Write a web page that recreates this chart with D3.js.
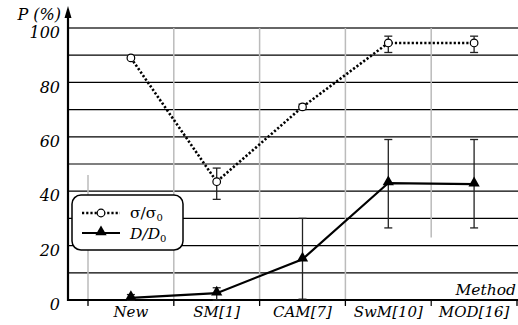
<!DOCTYPE html>
<html>
<head>
<meta charset="utf-8">
<script src="https://cdn.jsdelivr.net/npm/d3@7"></script>
<style>
  body { margin: 0; background: #fff; }
</style>
</head>
<body>
<script>
// chart values
var methods = ["New", "SM[1]", "CAM[7]", "SwM[10]", "MOD[16]"];
var sigma = [89, 43.5, 71, 94.5, 94.5];
var sigmaLo = [89, 37, 70, 91, 91];
var sigmaHi = [89, 48.5, 72, 97, 97];
var dd = [0.8, 2.5, 15, 43, 42.6];
var ddLo = [0, 0, 0.3, 26.5, 26.5];
var ddHi = [2, 4.5, 30, 59, 59];
var yLabels = [0, 20, 40, 60, 80, 100];
var gridVals = d3.range(0, 101, 10);
// separator lines between method columns: [top, bottom] in %
var sepTop = [46, 100, 100, 100, 100, 0];
var sepBottom = [-2, -2, -2, -2, 23, -2];

var W = 518, H = 325;
var x0 = 68;
var serif = "'DejaVu Serif', serif";

var svg = d3.select("body").append("svg")
    .attr("width", W)
    .attr("height", H)
    .attr("font-family", serif);

var x = d3.scaleBand()
    .domain(methods)
    .range([88, 517]);

var y = d3.scaleLinear()
    .domain([0, 100])
    .range([300, 28]);

var cx = function(i) { return x(methods[i]) + x.bandwidth() / 2; };

// horizontal grid
svg.append("g").selectAll("line")
  .data(gridVals)
  .enter().append("line")
    .attr("x1", x0).attr("x2", W)
    .attr("y1", function(d) { return y(d); })
    .attr("y2", function(d) { return y(d); })
    .attr("stroke", function(d) { return d == 100 ? "#666" : "#000"; })
    .attr("stroke-width", function(d) { return d == 100 ? 2 : 1.2; });

// column separators
var bounds = methods.map(function(m) { return x(m); }).concat([x.range()[1]]);
svg.append("g").selectAll("line")
  .data(bounds)
  .enter().append("line")
    .attr("x1", function(d) { return d; })
    .attr("x2", function(d) { return d; })
    .attr("y1", function(d, i) { return y(sepTop[i]); })
    .attr("y2", function(d, i) { return y(sepBottom[i]); })
    .attr("stroke", "#bbb")
    .attr("stroke-width", 1.5);

// bottom ticks
svg.append("g").selectAll("line")
  .data(bounds)
  .enter().append("line")
    .attr("x1", function(d) { return d; })
    .attr("x2", function(d) { return d; })
    .attr("y1", y(0))
    .attr("y2", y(0) + 6)
    .attr("stroke", "#000")
    .attr("stroke-width", 1.2);

// x axis line
svg.append("line")
    .attr("x1", x0).attr("x2", W)
    .attr("y1", y(0)).attr("y2", y(0))
    .attr("stroke", "#000").attr("stroke-width", 2);

// y axis with arrow
svg.append("line")
    .attr("x1", x0).attr("x2", x0)
    .attr("y1", y(0) + 1).attr("y2", 14)
    .attr("stroke", "#000").attr("stroke-width", 2.2);
svg.append("path")
    .attr("d", "M" + x0 + ",6 L" + (x0 - 3.5) + ",18 L" + (x0 + 3.5) + ",18 Z")
    .attr("fill", "#000");

// y labels
var yAxis = svg.append("g")
    .attr("transform", "translate(" + (x0 - 8) + ",0)")
    .call(d3.axisLeft(y).tickValues(yLabels).tickSize(0).tickPadding(0));
yAxis.attr("font-family", serif).attr("font-size", 16);
yAxis.select(".domain").remove();
yAxis.selectAll("text")
    .attr("dy", "0.6em")
    .attr("font-style", "italic")
    .attr("fill", "#000");

svg.append("text")
    .attr("x", 61).attr("y", 20)
    .attr("text-anchor", "end")
    .attr("font-style", "italic")
    .attr("font-size", 16)
    .text("P (%)");

// x labels
var xAxis = svg.append("g")
    .attr("transform", "translate(0," + y(0) + ")")
    .call(d3.axisBottom(x).tickSize(0).tickPadding(6));
xAxis.attr("font-family", serif).attr("font-size", 15);
xAxis.select(".domain").remove();
xAxis.selectAll("text")
    .attr("font-style", "italic")
    .attr("fill", "#000");

svg.append("text")
    .attr("x", 516).attr("y", 295)
    .attr("text-anchor", "end")
    .attr("font-style", "italic")
    .attr("font-size", 15.5)
    .text("Method");

// error bars
var errBars = function(lo, hi) {
  var g = svg.append("g");
  methods.forEach(function(m, i) {
    if (hi[i] - lo[i] < 0.5) return;
    g.append("line")
      .attr("x1", cx(i)).attr("x2", cx(i))
      .attr("y1", y(lo[i])).attr("y2", y(hi[i]))
      .attr("stroke", "#222").attr("stroke-width", 1.3);
    [lo[i], hi[i]].forEach(function(v) {
      g.append("line")
        .attr("x1", cx(i) - 4).attr("x2", cx(i) + 4)
        .attr("y1", y(v)).attr("y2", y(v))
        .attr("stroke", "#222").attr("stroke-width", 1.3);
    });
  });
};
errBars(ddLo, ddHi);
errBars(sigmaLo, sigmaHi);

var line = d3.line()
    .x(function(d, i) { return cx(i); })
    .y(function(d) { return y(d); });

svg.append("path")
    .datum(dd)
    .attr("fill", "none")
    .attr("stroke", "#000")
    .attr("stroke-width", 2.2)
    .attr("d", line);

svg.append("path")
    .datum(sigma)
    .attr("fill", "none")
    .attr("stroke", "#000")
    .attr("stroke-width", 2.6)
    .attr("stroke-dasharray", "2.2,2")
    .attr("d", line);

var tri = d3.symbol().type(d3.symbolTriangle).size(55);
svg.append("g").selectAll("path")
  .data(dd)
  .enter().append("path")
    .attr("d", tri)
    .attr("transform", function(d, i) { return "translate(" + cx(i) + "," + (y(d) - 1) + ")"; })
    .attr("fill", "#000");

svg.append("g").selectAll("circle")
  .data(sigma)
  .enter().append("circle")
    .attr("cx", function(d, i) { return cx(i); })
    .attr("cy", function(d) { return y(d); })
    .attr("r", 3.8)
    .attr("fill", "#fff")
    .attr("stroke", "#000")
    .attr("stroke-width", 1.2);

// legend
var lg = svg.append("g").attr("transform", "translate(72,195)");
lg.append("rect")
    .attr("width", 111).attr("height", 55)
    .attr("rx", 9)
    .attr("fill", "#fff")
    .attr("stroke", "#000")
    .attr("stroke-width", 1.5);
lg.append("line")
    .attr("x1", 10).attr("x2", 48).attr("y1", 18).attr("y2", 18)
    .attr("stroke", "#000").attr("stroke-width", 2.6)
    .attr("stroke-dasharray", "2.2,2");
lg.append("circle")
    .attr("cx", 29).attr("cy", 18).attr("r", 3.8)
    .attr("fill", "#fff").attr("stroke", "#000").attr("stroke-width", 1.2);
lg.append("line")
    .attr("x1", 10).attr("x2", 48).attr("y1", 38).attr("y2", 38)
    .attr("stroke", "#000").attr("stroke-width", 2);
lg.append("path")
    .attr("d", tri)
    .attr("transform", "translate(29,37)")
    .attr("fill", "#000");

var t1 = lg.append("text").attr("x", 58).attr("y", 23).attr("font-size", 15.5);
t1.append("tspan").text("σ/σ");
t1.append("tspan").attr("dy", 3).attr("font-size", 10).text("0");

var t2 = lg.append("text").attr("x", 58).attr("y", 44).attr("font-size", 15.5);
t2.append("tspan").attr("font-style", "italic").text("D/D");
t2.append("tspan").attr("dy", 3).attr("font-size", 10).text("0");
</script>
</body>
</html>
